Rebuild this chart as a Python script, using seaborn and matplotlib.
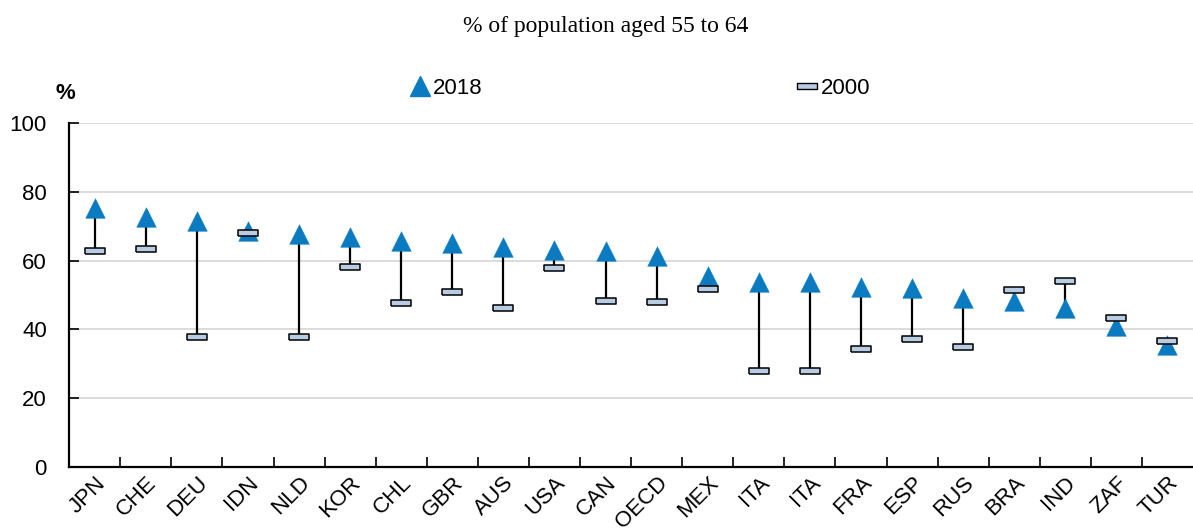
import numpy as np
import pandas as pd
import matplotlib
matplotlib.use("Agg")
import matplotlib.pyplot as plt
import seaborn as sns
from matplotlib.lines import Line2D

countries = ["JPN", "CHE", "DEU", "IDN", "NLD", "KOR", "CHL", "GBR", "AUS", "USA", "CAN",
             "OECD", "MEX", "ITA", "ITA", "FRA", "ESP", "RUS", "BRA", "IND", "ZAF", "TUR"]
val_2018 = [75.3, 72.7, 71.4, 68.6, 67.7, 66.9, 65.6, 65.1, 63.9, 63.2, 62.9,
            61.3, 55.4, 53.8, 53.8, 52.2, 52.1, 49.1, 48.3, 46.3, 40.9, 35.4]
val_2000 = [62.9, 63.4, 37.7, 67.9, 37.7, 58.0, 47.8, 50.9, 46.2, 57.9, 48.3,
            47.9, 51.8, 27.9, 27.9, 34.3, 37.1, 34.8, 51.3, 54.2, 43.2, 36.5]

df = pd.DataFrame({"pos": np.arange(len(countries)), "country": countries,
                   "y2018": val_2018, "y2000": val_2000})

blue = "#0a7bc1"
box_fill = "#b8cce4"
box_marker = [(-1, -0.27), (1, -0.27), (1, 0.27), (-1, 0.27), (-1, -0.27)]

sns.set_style("white")
plt.rcParams["font.family"] = ["Liberation Sans", "DejaVu Sans"]
plt.rcParams["text.color"] = "black"
plt.rcParams["xtick.color"] = "black"
plt.rcParams["ytick.color"] = "black"
plt.rcParams["xtick.labelcolor"] = "black"
plt.rcParams["ytick.labelcolor"] = "black"

fig = plt.figure(figsize=(11.93, 5.31), dpi=100)
ax = fig.add_axes([0.058, 0.1205, 0.942, 0.648])

ax.vlines(df["pos"], df["y2000"], df["y2018"], color="black", lw=1.6, zorder=2)
sns.scatterplot(data=df, x="pos", y="y2018", marker="^", s=200, color=blue,
                edgecolor=blue, linewidth=0.3, zorder=3, ax=ax)
sns.scatterplot(data=df, x="pos", y="y2000", marker=box_marker, s=210, color=box_fill,
                edgecolor="black", linewidth=1.1, zorder=4, ax=ax)

ax.set_xlim(-0.5, len(countries) - 0.5)
ax.set_ylim(0, 100)
ax.set_yticks([0, 20, 40, 60, 80, 100])
ax.yaxis.grid(True, color="#d9d9d9", lw=1.3)
ax.set_axisbelow(True)
ax.set_xticks(df["pos"])
ax.set_xticklabels(countries, rotation=45, ha="right", rotation_mode="anchor", fontsize=16)
ax.set_xticks(np.arange(len(countries) - 1) + 0.5, minor=True)
ax.tick_params(axis="x", which="major", bottom=True, length=0, pad=4)
ax.tick_params(axis="x", which="minor", bottom=True, direction="in", length=7, width=1.2,
               color="black")
ax.tick_params(axis="y", left=True, direction="in", length=7, width=1.2, color="black",
               labelsize=16, pad=16)
ax.set_xlabel("")
ax.set_ylabel("")
for side in ["top", "right"]:
    ax.spines[side].set_visible(False)
for side in ["left", "bottom"]:
    ax.spines[side].set_color("black")
    ax.spines[side].set_linewidth(1.6)

fig.text(0.508, 0.951, "% of population aged 55 to 64", ha="center", va="center",
         fontsize=17, family=["Liberation Serif", "DejaVu Serif"])
fig.text(0.055, 0.823, "%", ha="center", va="center", fontsize=16, fontweight="bold")

h1 = Line2D([], [], marker="^", ls="none", color=blue, markersize=14)
h2 = Line2D([], [], marker=box_marker, ls="none", markerfacecolor=box_fill,
            markeredgecolor="black", markeredgewidth=1.0, markersize=14)
fig.legend([h1, h2], ["2018", "2000"], loc="center", bbox_to_anchor=(0.537, 0.834),
           ncol=2, frameon=False, fontsize=16, handlelength=0.8, handletextpad=0.2,
           columnspacing=14.2)

fig.savefig("out.png", dpi=100)
